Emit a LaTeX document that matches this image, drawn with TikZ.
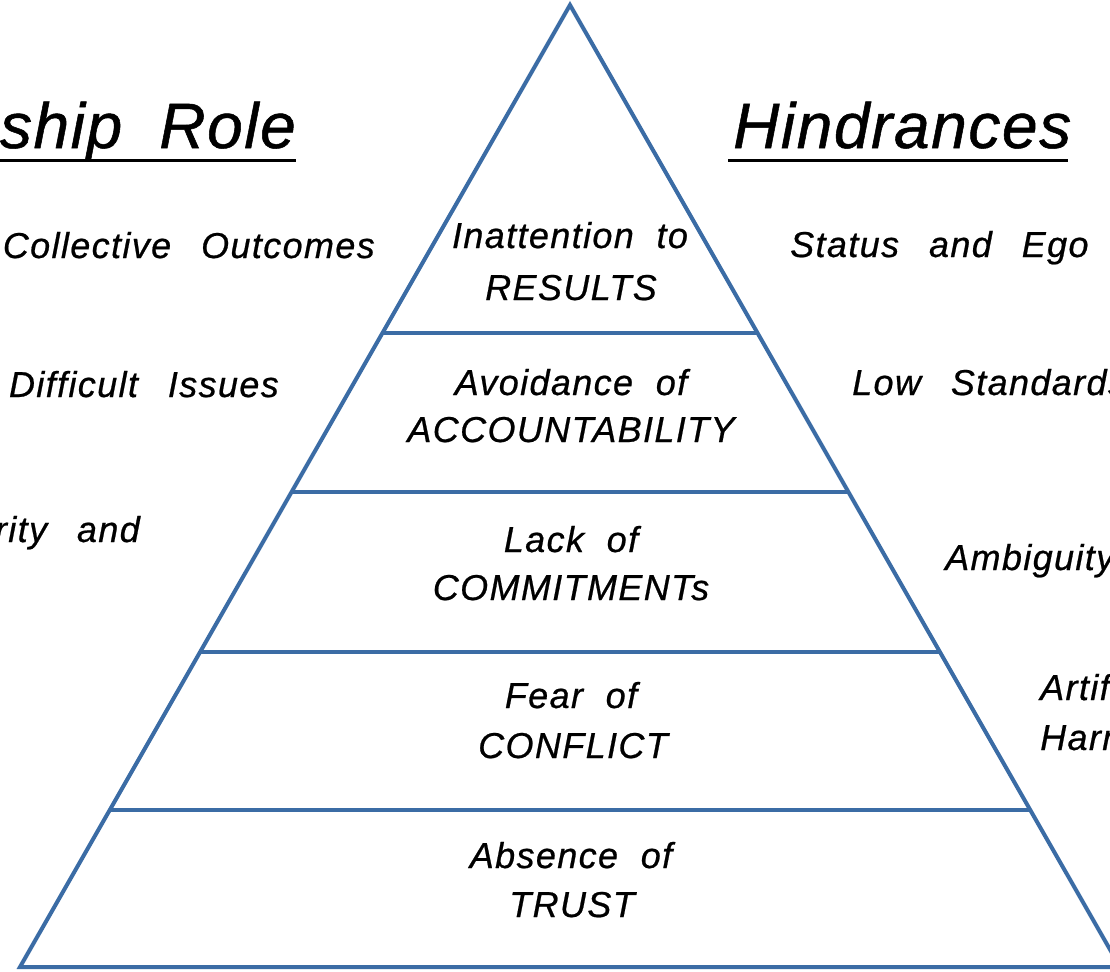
\documentclass[tikz,border=0pt]{standalone}
\usepackage{fontspec}
\usetikzlibrary{calc}
\newfontfamily\hand[LetterSpace=3.8,WordSpace=2.0,FakeBold=0.6]{Liberation Sans}
\newfontfamily\handhead[LetterSpace=2.5,WordSpace=1.8,FakeBold=0.8]{Liberation Sans}
\definecolor{pyr}{HTML}{3B6CA5}
\begin{document}
\begin{tikzpicture}[x=1pt,y=-1pt,
  txt/.style={font=\hand\itshape\fontsize{36}{40}\selectfont, inner sep=0pt, text=black},
  lvl/.style={txt, anchor=base},
  head/.style={font=\handhead\itshape\fontsize{64}{70}\selectfont, inner sep=0pt, text=black},
  edge/.style={draw=pyr, line width=4pt, line join=miter},
  uline/.style={draw=black, line width=3pt}]
\useasboundingbox (0,0) rectangle (1110,971);
\clip (0,0) rectangle (1110,971);
\fill[white] (0,0) rectangle (1110,971);
% pyramid
\coordinate (apex) at (570,5);
\coordinate (bl) at (20,967);
\coordinate (br) at (1120,967);
\draw[edge] (bl) -- (apex) -- (br) -- cycle;
\foreach \t/\n in {0.341/a,0.5062/b,0.6726/c,0.8368/d}{
  \coordinate (l\n) at ($(apex)!\t!(bl)$);
  \coordinate (r\n) at ($(apex)!\t!(br)$);
  \draw[edge] (l\n) -- (r\n);
}
% level texts
\node[lvl] (t1a) at (570,248) {Inattention to};
\node[lvl] (t1b) at (571,300) {RESULTS};
\node[lvl] (t2a) at (571,395) {Avoidance of};
\node[lvl] (t2b) at (571,442) {ACCOUNTABILITY};
\node[lvl] (t3a) at (571,552) {Lack of};
\node[lvl] (t3b) at (571,600) {COMMITMENTs};
\node[lvl] (t4a) at (571,708) {Fear of};
\node[lvl] (t4b) at (573,758) {CONFLICT};
\node[lvl] (t5a) at (571,868) {Absence of};
\node[lvl] (t5b) at (572,917) {TRUST};
% headings
\node[head, anchor=base east] (hl) at (296,148) {ship\hspace{0.58em}Role};
\draw[uline] (0,160) -- (296,160);
\node[head, anchor=base west] (hr) at (733,148) {Hindrances};
\draw[uline] (728,160) -- (1068,160);
% left side texts
\node[txt, anchor=base east] (l1) at (375,258) {Collective\hspace{0.2em} Outcomes};
\node[txt, anchor=base east] (l2) at (279,397) {Difficult\hspace{0.2em} Issues};
\node[txt, anchor=base east] (l3) at (140,542) {rity\hspace{0.2em} and};
% right side texts
\node[txt, anchor=base west] (r1) at (790,257) {Status\hspace{0.2em} and\hspace{0.2em} Ego};
\node[txt, anchor=base west] (r2) at (852,395) {Low\hspace{0.2em} Standards};
\node[txt, anchor=base west] (r3) at (945,570) {Ambiguity};
\node[txt, anchor=base west] (r4a) at (1040,700) {Artificial};
\node[txt, anchor=base west] (r4b) at (1040,750) {Harmony};
\end{tikzpicture}
\end{document}
